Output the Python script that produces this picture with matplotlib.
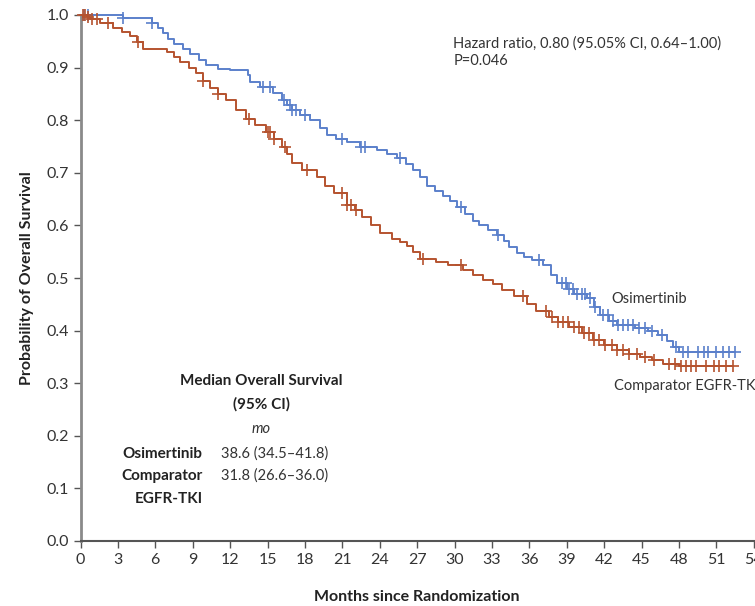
import numpy as np
import matplotlib
matplotlib.use("Agg")
import matplotlib.pyplot as plt

# Kaplan-Meier curves (month, survival probability)
osi_t = [0, 3.4, 5.7, 6.2, 6.6, 7.0, 7.5, 8.2, 8.8, 9.5, 10.1, 11.0, 12.0, 13.4, 13.6,
         14.4, 15.4, 16.2, 16.6, 17.0, 17.6, 18.4, 19.2, 19.8, 20.5, 21.4, 22.4, 23.8,
         24.6, 25.4, 26.1, 26.7, 27.2, 27.8, 28.4, 29.1, 29.6, 30.2, 30.8, 31.5, 32.0,
         32.7, 33.4, 34.0, 34.4, 35.0, 35.6, 36.2, 37.1, 37.7, 38.2, 39.0, 39.6, 40.6,
         41.2, 41.7, 42.4, 43.0, 44.5, 45.5, 46.3, 47.0, 47.5, 48.0, 52.5]
osi_s = [1.0, 0.995, 0.985, 0.975, 0.965, 0.955, 0.945, 0.935, 0.926, 0.915, 0.905,
         0.898, 0.895, 0.885, 0.873, 0.864, 0.852, 0.838, 0.828, 0.819, 0.81, 0.80,
         0.785, 0.772, 0.765, 0.759, 0.749, 0.743, 0.735, 0.728, 0.716, 0.705, 0.692,
         0.675, 0.665, 0.655, 0.646, 0.635, 0.622, 0.608, 0.600, 0.592, 0.582, 0.570,
         0.559, 0.548, 0.540, 0.534, 0.525, 0.505, 0.490, 0.480, 0.470, 0.462, 0.445,
         0.430, 0.418, 0.410, 0.405, 0.400, 0.392, 0.380, 0.368, 0.360, 0.360]
osi_cens = [0.3, 0.6, 3.4, 5.7, 14.6, 15.2, 16.3, 16.8, 17.0, 17.3, 18.0, 21.0, 22.5, 22.8,
            25.6, 30.5, 33.5, 36.8, 38.6, 38.9, 39.2, 39.5, 39.8, 40.2, 40.5, 40.9, 41.3,
            41.9, 42.3, 42.7, 43.1, 43.5, 43.9, 44.3, 44.8, 45.3, 45.8, 46.6, 47.8, 48.3,
            48.7, 49.5, 50.0, 50.3, 51.0, 51.5, 52.0, 52.5]

cmp_t = [0, 0.5, 0.8, 1.6, 2.6, 3.3, 4.0, 4.5, 5.0, 6.9, 7.5, 8.0, 8.7, 9.3, 9.8, 10.4,
         11.0, 11.7, 12.5, 13.3, 14.0, 14.9, 15.5, 16.2, 16.6, 17.0, 17.8, 19.0, 19.6,
         20.3, 21.4, 22.0, 22.6, 23.3, 24.0, 25.0, 25.6, 26.2, 26.7, 27.2, 28.5, 29.5,
         30.7, 31.5, 32.3, 33.1, 33.8, 34.8, 35.8, 36.5, 37.6, 38.3, 39.2, 40.2, 41.1,
         42.0, 43.0, 44.0, 44.9, 45.8, 46.7, 48.0, 52.3]
cmp_s = [1.0, 0.997, 0.993, 0.985, 0.975, 0.968, 0.960, 0.948, 0.935, 0.929, 0.920,
         0.911, 0.900, 0.890, 0.875, 0.862, 0.850, 0.838, 0.820, 0.802, 0.790, 0.778,
         0.765, 0.749, 0.735, 0.719, 0.705, 0.692, 0.675, 0.661, 0.638, 0.630, 0.616,
         0.600, 0.586, 0.575, 0.568, 0.560, 0.550, 0.536, 0.530, 0.524, 0.515, 0.505,
         0.496, 0.488, 0.477, 0.465, 0.450, 0.438, 0.426, 0.416, 0.406, 0.395, 0.383,
         0.372, 0.363, 0.356, 0.350, 0.344, 0.337, 0.333, 0.333]
cmp_cens = [0.2, 0.4, 0.6, 0.9, 1.3, 2.2, 4.6, 9.8, 11.0, 13.5, 15.0, 15.2, 15.5, 16.4,
            18.2, 21.0, 21.4, 21.7, 22.1, 27.5, 30.5, 35.5, 37.3, 37.8, 38.3, 38.7, 39.1,
            39.6, 40.0, 40.4, 40.8, 41.2, 41.6, 42.1, 42.6, 43.0, 43.5, 44.0, 44.6, 45.3,
            46.0, 47.2, 47.7, 48.2, 48.6, 49.0, 49.4, 50.2, 50.8, 51.2, 51.8, 52.3]

x_ticks = list(range(0, 55, 3))
y_ticks = [round(v * 0.1, 1) for v in range(11)]

blue = "#5b80cb"
red = "#b5532f"

plt.rcParams["font.family"] = ["Lato", "DejaVu Sans"]
txt = "#333333"

fig = plt.figure(figsize=(7.55, 6.06), dpi=100)
ax = fig.add_axes([80.5 / 755, 65 / 606, 673.3 / 755, 526 / 606])


def step_at(t, s, x):
    idx = np.searchsorted(t, x, side="right") - 1
    return np.asarray(s)[idx]


for t, s, c, cens in [(osi_t, osi_s, blue, osi_cens), (cmp_t, cmp_s, red, cmp_cens)]:
    ax.step(t, s, where="post", color=c, lw=1.4, clip_on=False, zorder=3)
    ax.plot(cens, step_at(t, s, cens), ls="none", marker="+", ms=8, mew=1.2,
            color=c, clip_on=False, zorder=3)

ax.set_xlim(0, 54)
ax.set_ylim(0, 1.0)
ax.set_xticks(x_ticks)
ax.set_xticklabels([str(v) for v in x_ticks])
ax.set_yticks(y_ticks)
ax.set_yticklabels([f"{v:.1f}" for v in y_ticks])
for sp in ["top", "right"]:
    ax.spines[sp].set_visible(False)
ax.spines["left"].set_color("#8a8a8a")
ax.spines["left"].set_linewidth(2)
ax.spines["bottom"].set_color("#555555")
ax.spines["bottom"].set_linewidth(1.5)
ax.tick_params(axis="both", direction="out", length=5, width=1, colors="#555555",
               labelcolor=txt, labelsize=11.5)
ax.tick_params(axis="x", pad=4)

ax.set_xlabel("Months since Randomization", fontsize=11.5, fontweight="bold",
              color="#222222", labelpad=16)
ax.set_ylabel("Probability of Overall Survival", fontsize=11.5, fontweight="bold",
              color="#222222", labelpad=9)

ax.text(29.9, 0.96, "Hazard ratio, 0.80 (95.05% CI, 0.64\u20131.00)\nP=0.046",
        fontsize=10.5, color=txt, va="top", ha="left", linespacing=1.35)
ax.text(42.6, 0.46, "Osimertinib", fontsize=10.5, color=txt, va="center")
ax.text(42.8, 0.295, "Comparator EGFR-TKI", fontsize=10.5, color=txt, va="center",
        clip_on=False)

ax.text(14.5, 0.305, "Median Overall Survival", fontsize=11, fontweight="bold",
        color="#222222", ha="center", va="center")
ax.text(14.5, 0.259, "(95% CI)", fontsize=11, fontweight="bold", color="#222222",
        ha="center", va="center")
ax.text(14.5, 0.212, "mo", fontsize=10.5, style="italic", color=txt,
        ha="center", va="center")
rows = [("Osimertinib", "38.6 (34.5\u201341.8)", 0.166),
        ("Comparator", "31.8 (26.6\u201336.0)", 0.124),
        ("EGFR-TKI", "", 0.080)]
for name, val, y in rows:
    ax.text(9.8, y, name, fontsize=11, fontweight="bold", color="#222222",
            ha="right", va="center")
    ax.text(11.3, y, val, fontsize=10.5, color=txt, ha="left", va="center")

fig.savefig("out.png", dpi=100)
